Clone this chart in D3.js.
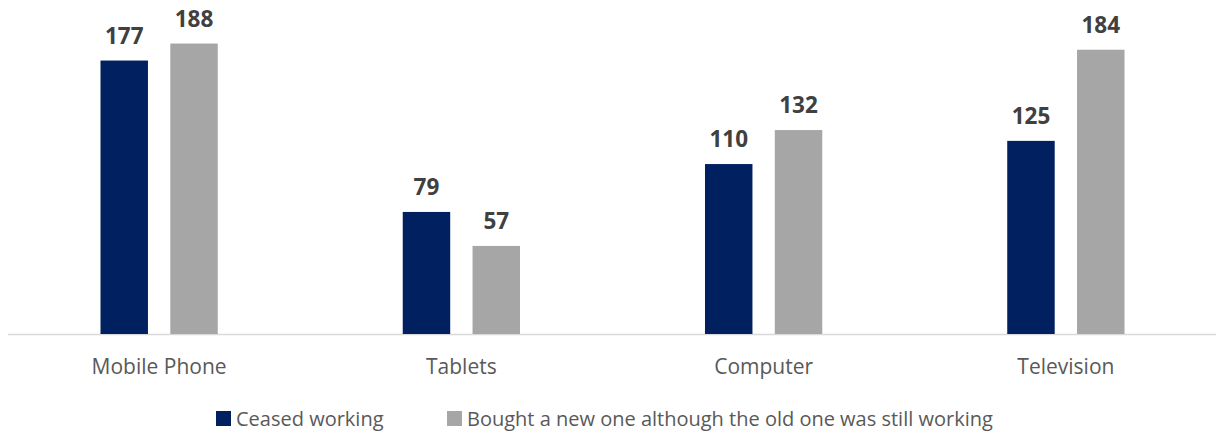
<!DOCTYPE html>
<html>
<head>
<meta charset="utf-8">
<script src="https://cdn.jsdelivr.net/npm/d3@7"></script>
<style>
  body { margin: 0; background: #fff; }
  svg { display: block; font-family: "Open Sans", "Noto Sans", sans-serif; }
</style>
</head>
<body>
<svg width="1216" height="434"></svg>
<script>
// datos del grafico
const categories = ["Mobile Phone", "Tablets", "Computer", "Television"];
const seriesNames = ["Ceased working", "Bought a new one although the old one was still working"];
const ceasedWorking = [177, 79, 110, 125];
const boughtNew = [188, 57, 132, 184];
const seriesColors = ["#002060", "#A6A6A6"];

const svg = d3.select("svg");
const width = 1216;

const x0 = d3.scaleBand()
    .domain(categories)
    .range([8, 1217])
    .paddingInner(0)
    .paddingOuter(0);

// posicion de las dos barras dentro de cada categoria
const x1 = d3.scaleBand()
    .domain([0, 1])
    .range([0, x0.bandwidth()])
    .paddingInner(0.32)
    .paddingOuter(1.325);

const y = d3.scaleLinear()
    .domain([0, 200])
    .range([334, 25]);

const values = [ceasedWorking, boughtNew];

// linea base
svg.append("line")
    .attr("x1", 8).attr("x2", width)
    .attr("y1", y(0) + 0.5).attr("y2", y(0) + 0.5)
    .attr("stroke", "#D9D9D9")
    .attr("stroke-width", 1.5);

const groups = svg.selectAll("g.cat")
    .data(categories)
    .enter()
    .append("g")
    .attr("class", "cat")
    .attr("transform", d => `translate(${x0(d)},0)`);

groups.selectAll("rect")
    .data((d, i) => values.map((s, j) => ({ s: j, v: s[i] })))
    .enter()
    .append("rect")
    .attr("x", d => x1(d.s))
    .attr("width", x1.bandwidth())
    .attr("y", d => y(d.v))
    .attr("height", d => y(0) - y(d.v))
    .attr("fill", d => seriesColors[d.s]);

groups.selectAll("text.val")
    .data((d, i) => values.map((s, j) => ({ s: j, v: s[i] })))
    .enter()
    .append("text")
    .attr("class", "val")
    .attr("x", d => x1(d.s) + x1.bandwidth() / 2)
    .attr("y", d => y(d.v) - 17)
    .attr("text-anchor", "middle")
    .attr("font-size", "22.5px")
    .attr("font-weight", "bold")
    .attr("fill", "#404040")
    .text(d => d.v);

// etiquetas de categoria
svg.selectAll("text.cat-label")
    .data(categories)
    .enter()
    .append("text")
    .attr("class", "cat-label")
    .attr("x", d => x0(d) + x0.bandwidth() / 2)
    .attr("y", 374)
    .attr("text-anchor", "middle")
    .attr("font-size", "21px")
    .attr("fill", "#595959")
    .text(d => d);

// leyenda
const legendX = [216, 447];
const legend = svg.selectAll("g.legend")
    .data(seriesNames)
    .enter()
    .append("g")
    .attr("class", "legend")
    .attr("transform", (d, i) => `translate(${legendX[i]},411)`);

legend.append("rect")
    .attr("width", 15)
    .attr("height", 15)
    .attr("fill", (d, i) => seriesColors[i]);

legend.append("text")
    .attr("x", 20)
    .attr("y", 15)
    .attr("font-size", "20px")
    .attr("fill", "#595959")
    .text(d => d);
</script>
</body>
</html>
